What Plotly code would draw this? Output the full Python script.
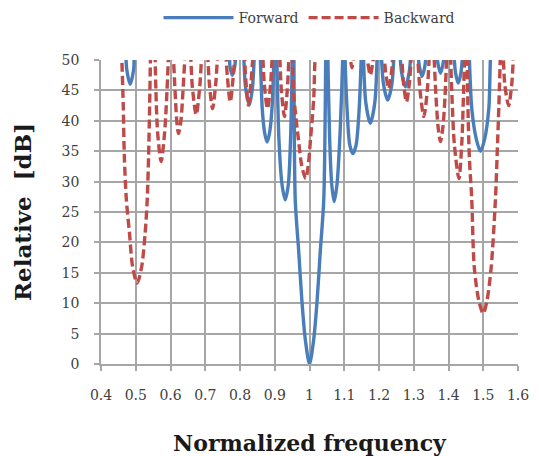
import plotly.graph_objects as go

# Forward (solid blue); values above 50 are clipped by the axis
fwd_x = [0.40, 0.466, 0.474, 0.484, 0.494, 0.502, 0.63,
         0.765, 0.771, 0.778, 0.785, 0.792, 0.801,
         0.809, 0.816, 0.827, 0.836, 0.843, 0.851,
         0.857, 0.864, 0.871, 0.878, 0.885, 0.892, 0.899, 0.902,
         0.905, 0.912, 0.921, 0.930, 0.939, 0.946, 0.951, 0.953,
         0.955, 0.959, 0.969, 0.978, 0.988, 1.000, 1.012, 1.022, 1.031, 1.041, 1.047, 1.0495,
         1.052, 1.058, 1.064, 1.071, 1.079, 1.088, 1.097, 1.099,
         1.101, 1.108, 1.116, 1.125, 1.134, 1.143, 1.150, 1.152,
         1.154, 1.162, 1.175, 1.188, 1.196, 1.200,
         1.205, 1.213, 1.225, 1.237, 1.245, 1.251,
         1.258, 1.265, 1.276, 1.287, 1.294, 1.301,
         1.309, 1.316, 1.324, 1.332, 1.339, 1.351,
         1.363, 1.370, 1.377, 1.384, 1.391, 1.402,
         1.413, 1.420, 1.428, 1.436, 1.443, 1.451,
         1.458, 1.467, 1.480, 1.492, 1.504, 1.516, 1.523, 1.56, 1.60]
fwd_y = [70, 56, 48.5, 46, 48.5, 56, 70,
         55, 49, 47.5, 49, 55, 60,
         53, 45.5, 42.6, 45.5, 53, 60,
         53, 42, 38, 36.5, 38, 42, 53, 60,
         53, 37, 29.5, 27, 29.5, 38, 53, 65,
         52, 27, 18.5, 10.5, 4, 0, 4, 10.5, 18.5, 27, 52, 65,
         53, 37, 29.5, 26.7, 29.5, 38, 53, 60,
         53, 42, 36, 34.6, 36, 42, 53, 60,
         53, 43, 39.6, 43, 53, 60,
         53, 46, 43.4, 46, 53, 60,
         53, 48, 45.6, 48, 53, 58,
         53, 49, 47.3, 49, 53, 58,
         53, 49.3, 47.8, 49.3, 53, 58,
         53, 48, 46.2, 48, 53, 60,
         53, 42, 37, 35, 37, 42, 53, 70, 70]

# Backward (dashed red)
bwd_x = [0.40, 0.45,
         0.459, 0.464, 0.467, 0.473, 0.482, 0.491, 0.504, 0.517, 0.527, 0.533, 0.537, 0.540, 0.543, 0.549,
         0.555, 0.558, 0.563, 0.573, 0.583, 0.590, 0.595, 0.600,
         0.607, 0.613, 0.618, 0.623, 0.630, 0.636, 0.643, 0.650,
         0.657, 0.663, 0.674, 0.684, 0.691, 0.699,
         0.706, 0.712, 0.721, 0.730, 0.737, 0.747,
         0.758, 0.764, 0.772, 0.780, 0.787, 0.799,
         0.811, 0.817, 0.824, 0.832, 0.839, 0.851,
         0.864, 0.870, 0.879, 0.888, 0.894, 0.903,
         0.913, 0.919, 0.928, 0.936, 0.942, 0.946,
         0.949, 0.955, 0.968, 0.978, 0.989, 0.996, 1.003, 1.012, 1.018, 1.06,
         1.114, 1.118, 1.122, 1.126, 1.130, 1.147,
         1.163, 1.168, 1.175, 1.182, 1.187, 1.200,
         1.213, 1.219, 1.228, 1.236, 1.242, 1.253,
         1.264, 1.270, 1.279, 1.288, 1.294, 1.303,
         1.310, 1.318, 1.329, 1.339, 1.346, 1.352,
         1.357, 1.364, 1.370, 1.377, 1.384, 1.390, 1.396, 1.401,
         1.405, 1.410, 1.417, 1.430, 1.438, 1.443, 1.447, 1.450,
         1.453, 1.456, 1.460, 1.467, 1.474, 1.487, 1.500, 1.511, 1.523, 1.535, 1.540, 1.545, 1.550, 1.553,
         1.557, 1.562, 1.573, 1.582, 1.588, 1.60]
bwd_y = [70, 70,
         52, 42.6, 34.4, 27, 21.5, 16, 13.3, 16, 21.5, 27, 34.4, 42.6, 52, 62,
         52, 45, 38, 33.3, 38, 45, 52, 58,
         52, 45, 40, 37.9, 40, 45, 52, 58,
         52, 45.5, 41, 45.5, 52, 58,
         52, 46, 42, 46, 52, 58,
         52, 47, 43.1, 47, 52, 58,
         52, 46.5, 42.6, 46.5, 52, 58,
         52, 46, 42, 46, 52, 58,
         52, 45, 40.7, 45, 52, 56,
         52, 44, 37, 32.5, 30.5, 32.5, 37, 43.5, 52, 70,
         52, 50, 48.7, 50, 52, 57,
         52, 49.5, 47.5, 49.5, 52, 57,
         52, 48, 45.3, 48, 52, 58,
         52, 46.5, 43.1, 46.5, 52, 58,
         52, 45, 40.7, 45, 52, 56,
         52, 44, 39, 36.6, 39, 44, 52, 56,
         52, 44, 36, 30.5, 36, 44, 52, 56,
         52, 42, 34, 27, 16, 10.5, 8.3, 10.5, 16, 27, 34.4, 42.6, 52, 57,
         52, 46, 42.5, 46, 52, 65]

x_ticks = [0.4, 0.5, 0.6, 0.7, 0.8, 0.9, 1.0, 1.1, 1.2, 1.3, 1.4, 1.5, 1.6]
x_labels = ["0.4", "0.5", "0.6", "0.7", "0.8", "0.9", "1", "1.1", "1.2", "1.3", "1.4", "1.5", "1.6"]
y_ticks = [0, 5, 10, 15, 20, 25, 30, 35, 40, 45, 50]

FONT = "DejaVu Serif"
GRID = "#a6a6a6"
TICKFONT = dict(family=FONT, size=14, color="#404040")

fig = go.Figure()
fig.add_trace(go.Scatter(x=fwd_x, y=fwd_y, mode="lines", name="Forward",
                         line=dict(color="#4a7ebb", width=3.4, shape="spline", smoothing=0.8)))
fig.add_trace(go.Scatter(x=bwd_x, y=bwd_y, mode="lines", name="Backward",
                         line=dict(color="#be4b48", width=3.4, dash="9px,4px", shape="spline", smoothing=0.8)))

fig.update_layout(
    width=539, height=456,
    margin=dict(l=101, r=21, t=60, b=92, autoexpand=False),
    paper_bgcolor="white", plot_bgcolor="white",
    font=dict(family=FONT, size=14, color="#404040"),
    showlegend=True,
    legend=dict(orientation="h", x=0.5, xanchor="center", y=1.138, yanchor="middle",
                font=dict(family=FONT, size=14, color="#404040"),
                itemwidth=70,
                bgcolor="rgba(0,0,0,0)"),
    xaxis=dict(range=[0.4, 1.6], tickmode="array", tickvals=x_ticks, ticktext=x_labels,
               automargin=False,
               showgrid=True, gridcolor=GRID, gridwidth=1.5,
               showline=True, linecolor=GRID, linewidth=1.5,
               ticks="outside", ticklen=5, tickcolor=GRID, tickwidth=1.5,
               ticklabelstandoff=12,
               zeroline=False,
               tickfont=TICKFONT,
               title=dict(text="<b>Normalized frequency</b>", standoff=38,
                          font=dict(family=FONT, size=22, color="#1a1a1a"))),
    yaxis=dict(range=[0, 50], tickmode="array", tickvals=y_ticks,
               automargin=False,
               showgrid=True, gridcolor=GRID, gridwidth=1.5,
               showline=True, linecolor=GRID, linewidth=1.5,
               ticks="outside", ticklen=5, tickcolor=GRID, tickwidth=1.5,
               ticklabelstandoff=12,
               zeroline=False,
               tickfont=TICKFONT,
               title=dict(text="<b>Relative\u00a0\u00a0[dB]</b>", standoff=24,
                          font=dict(family=FONT, size=23, color="#1a1a1a"))),
)

fig.write_html("out.html")
